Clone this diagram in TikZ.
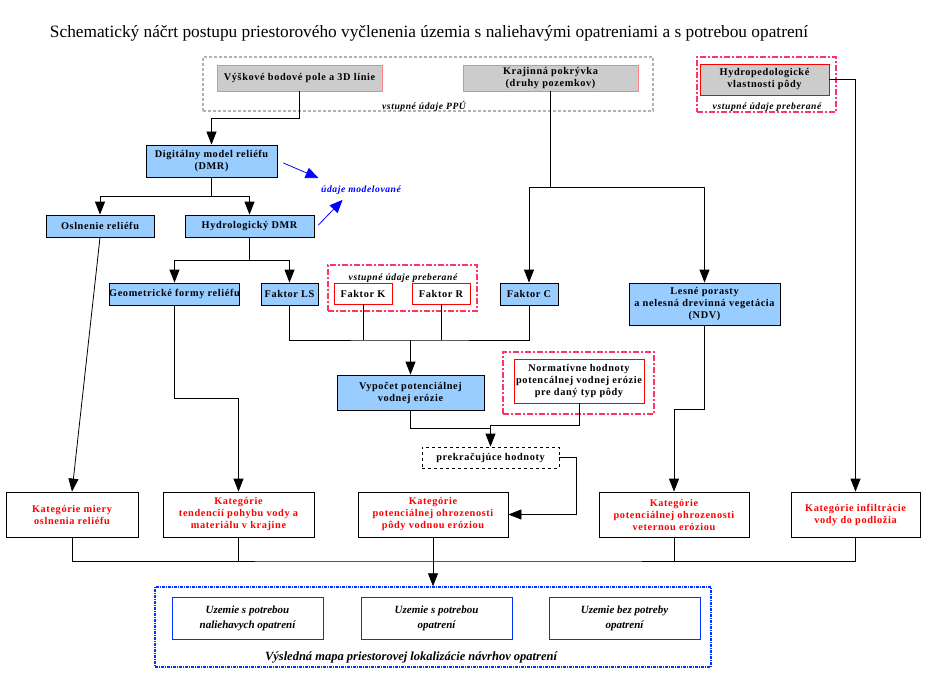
\documentclass[tikz,border=0pt]{standalone}
\usepackage{fontspec}
\setmainfont{Liberation Serif}
\newfontfamily\boxfont[LetterSpace=6]{Liberation Serif}
\usepackage{tikz}
\usetikzlibrary{calc,positioning,arrows.meta,shapes}
\definecolor{modra}{HTML}{99CCFF}
\definecolor{seda}{HTML}{CCCCCC}
\definecolor{ruzova}{HTML}{FF8080}
\definecolor{malina}{HTML}{FF3366}
\definecolor{tmodra}{HTML}{0033FF}
\tikzset{
>={Triangle[length=13pt,width=10pt]},
  blok/.style={
    rectangle,
    inner sep=0pt,
    thick,
    align=center,
    font=\boxfont\bfseries\fontsize{10.3}{12}\selectfont},
  vstup/.style={blok, draw=ruzova, fill=seda},
  krok/.style={blok, draw=black, fill=modra},
  prevzate/.style={blok, draw=red, fill=white},
  kategoria/.style={blok, draw=black, fill=white, text=red},
  uzemie/.style={blok, draw=tmodra, fill=white,
    font=\bfseries\itshape\fontsize{11}{15}\selectfont},
  obalppu/.style={draw=black!30, line width=1.2pt, dash pattern=on 3pt off 2pt},
  obalprev/.style={draw=malina, line width=1.6pt,
    dash pattern=on 6pt off 2pt on 2pt off 2pt},
  obalvysl/.style={draw=tmodra, line width=1.4pt,
    dash pattern=on 3pt off 1pt on 1pt off 1pt},
  popis/.style={font=\boxfont\bfseries\itshape\fontsize{9.6}{11}\selectfont},
  line/.style={draw, thick},
  sipka/.style={draw, thick, ->},
  modsipka/.style={draw=blue, thick, -{Triangle[length=13pt,width=11pt]}},
}

\begin{document}
\begin{tikzpicture}[x=1pt,y=-1pt]
	\useasboundingbox (0,0) rectangle (939,690);

	\node[font=\fontsize{17.3}{20}\selectfont] (nazov) at (429,33)
		{Schematický náčrt postupu priestorového vyčlenenia územia s naliehavými opatreniami a s potrebou opatrení};

	% skupiny vstupnych udajov
	\node[obalppu, minimum width=450pt, minimum height=54pt] (ppu) at (428,84) {};
	\node[obalprev, minimum width=139pt, minimum height=55pt] (prev1) at (766.5,84.5) {};
	\node[obalprev, minimum width=149pt, minimum height=46pt] (prev2) at (402.5,288) {};
	\node[obalprev, minimum width=151pt, minimum height=62pt] (prev3) at (578.5,383) {};
	\node[obalvysl, minimum width=556pt, minimum height=80pt] (vysl) at (433,627) {};

	\node[popis] (ppulbl) at (424,106) {vstupné údaje PPÚ};
	\node[popis] (prev1lbl) at (767,107) {vstupné údaje preberané};
	\node[popis] (prev2lbl) at (403,278) {vstupné údaje preberané};

	% vstupy
	\node[vstup, minimum width=165pt, minimum height=26pt] (vysk) at (299.5,78) {Výškové bodové pole a 3D línie};
	\node[vstup, minimum width=175pt, minimum height=26pt] (kraj) at (550.5,78) {Krajinná pokrývka\\(druhy pozemkov)};
	\node[vstup, draw=red, minimum width=129pt, minimum height=31pt] (hydp) at (764.5,79.5) {Hydropedologické\\vlastnosti pôdy};

	% modelovane udaje
	\node[krok, minimum width=131pt, minimum height=32pt] (dmr) at (211.5,161) {Digitálny model reliéfu\\(DMR)};
	\node[krok, minimum width=108pt, minimum height=22pt] (osl) at (100,226) {Oslnenie reliéfu};
	\node[krok, minimum width=129pt, minimum height=22pt] (hdmr) at (249.5,226) {Hydrologický DMR};
	\node[krok, minimum width=129pt, minimum height=22pt] (geo) at (174.5,294) {Geometrické formy reliéfu};
	\node[krok, minimum width=57pt, minimum height=22pt] (ls) at (289.5,294) {Faktor LS};
	\node[prevzate, minimum width=58pt, minimum height=21pt] (fk) at (363,293.5) {Faktor K};
	\node[prevzate, minimum width=58pt, minimum height=21pt] (fr) at (441,293.5) {Faktor R};
	\node[krok, minimum width=58pt, minimum height=22pt] (fc) at (529,294) {Faktor C};
	\node[krok, minimum width=151pt, minimum height=42pt] (les) at (704.5,304) {Lesné porasty\\a nelesná drevinná vegetácia\\(NDV)};
	\node[krok, minimum width=147pt, minimum height=35pt] (vyp) at (410.5,392.5) {Vypočet potenciálnej\\vodnej erózie};
	\node[prevzate, minimum width=130pt, minimum height=44pt] (norm) at (579,381) {Normatívne hodnoty\\potencálnej vodnej erózie\\pre daný typ pôdy};
	\node[blok, draw, dashed, fill=white, minimum width=137pt, minimum height=21pt] (prek) at (490.5,457.5) {prekračujúce hodnoty};

	\node[popis, text=blue] (mod) at (361,190) {údaje modelované};

	% kategorie
	\node[kategoria, minimum width=132pt, minimum height=45pt] (kat1) at (72,514.5) {Kategórie miery\\oslnenia reliéfu};
	\node[kategoria, minimum width=151pt, minimum height=45pt] (kat2) at (238.5,514.5) {Kategórie\\tendencií pohybu vody a\\materiálu v krajine};
	\node[kategoria, minimum width=150pt, minimum height=45pt] (kat3) at (433,514.5) {Kategórie\\potenciálnej ohrozenosti\\pôdy vodnou eróziou};
	\node[kategoria, minimum width=150pt, minimum height=45pt] (kat4) at (674,514.5) {Kategórie\\potenciálnej ohrozenosti\\veternou eróziou};
	\node[kategoria, minimum width=129pt, minimum height=45pt] (kat5) at (855.5,514.5) {Kategórie infiltrácie\\vody do podložia};

	% vysledna mapa
	\node[uzemie, minimum width=151pt, minimum height=42pt] (uz1) at (247.5,618) {Uzemie s potrebou\\naliehavych opatrení};
	\node[uzemie, minimum width=151pt, minimum height=42pt] (uz2) at (436.5,618) {Uzemie s potrebou\\opatrení};
	\node[uzemie, minimum width=151pt, minimum height=42pt] (uz3) at (624.5,618) {Uzemie bez potreby\\opatrení};
	\node[font=\bfseries\itshape\fontsize{12.5}{14}\selectfont] (vysllbl) at (411,657) {Výsledná mapa priestorovej lokalizácie návrhov opatrení};

	% spojenia
	\draw[sipka] (vysk.south) -- ++(0,27) -| (dmr.north);
	\draw[sipka] (dmr.south) -- ++(0,19) -| (osl.north);
	\draw[sipka] (dmr.south) -- ++(0,19) -| (hdmr.north);
	\draw[sipka] (hdmr.south) -- ++(0,23) -| (geo.north);
	\draw[sipka] (hdmr.south) -- ++(0,23) -| (ls.north);
	\draw[sipka] (kraj.south) -- ++(0,96) -| (fc.north);
	\draw[sipka] (kraj.south) -- ++(0,96) -| (les.north);
	\draw[sipka] (hydp.east) -| (kat5.north);

	\coordinate (spoj) at (410.5,340);
	\draw[line] (ls.south) |- (spoj) -| (fc.south);
	\foreach \f in {fk,fr}
		\draw[line] (\f.south) -- (\f.south |- spoj);
	\draw[sipka] (spoj) -- (vyp.north);

	\draw[line] (vyp.south) |- ($(prek.north)+(0,-18)$);
	\draw[sipka] (norm.south) -- ++(0,22) -| (prek.north);
	\draw[sipka] (prek.east) -- ++(17,0) |- (kat3.east);

	\draw[sipka] (osl.south) -- (kat1.north);
	\draw[sipka] (geo.south) -- ++(0,93) -| (kat2.north);
	\draw[sipka] (les.south) -- ++(0,84) -| (kat4.north);

	\coordinate (zber) at (433,561);
	\draw[line] (kat1.south) |- (zber) -| (kat5.south);
	\foreach \k in {kat2,kat4}
		\draw[line] (\k.south) -- (\k.south |- zber);
	\draw[sipka] (kat3.south) -- (vysl.north);

	\draw[modsipka] ($(dmr.east)+(6,2)$) -- ($(mod.north west)+(1,-4)$);
	\draw[modsipka] ($(hdmr.east)+(4,-1)$) -- ($(mod.south west)+(25,2)$);

\end{tikzpicture}
\end{document}
